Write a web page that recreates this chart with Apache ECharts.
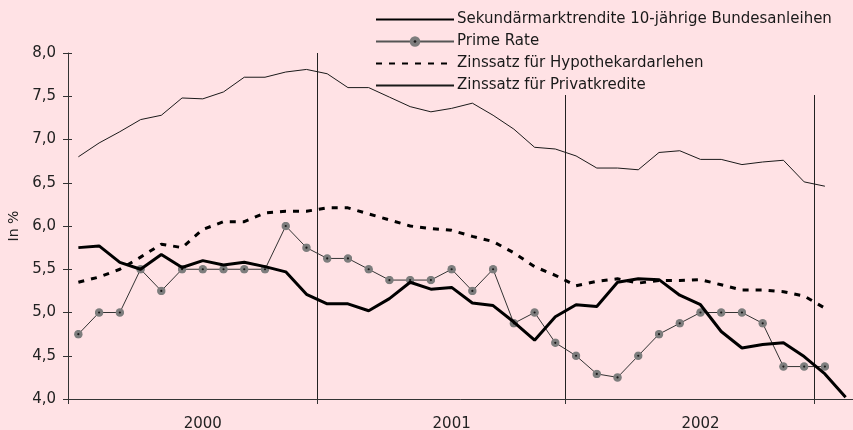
<!DOCTYPE html>
<html>
<head>
<meta charset="utf-8">
<script src="https://cdn.jsdelivr.net/npm/echarts@6/dist/echarts.min.js"></script>
<style>
html,body{margin:0;padding:0;background:#FFE2E5;}
#c{width:853px;height:430px;}
</style>
</head>
<body>
<div id="c"></div>
<script>
// Monthly categories Jan 2000 .. Feb 2003
var months = [];
for (var y = 2000; y <= 2003; y++) {
  for (var m = 1; m <= 12; m++) {
    if (months.length < 38) months.push(m + '/' + y);
  }
}
var yearLabels = {6: '2000', 18: '2001', 30: '2002'};

var bund = [5.75,5.77,5.58,5.50,5.67,5.52,5.60,5.55,5.58,5.53,5.47,5.21,5.10,5.10,5.02,5.16,5.35,
            5.27,5.29,5.11,5.08,4.89,4.68,4.95,5.09,5.07,5.35,5.39,5.38,5.20,5.09,4.78,4.59,4.63,4.65,4.49,4.29,4.02];
var prime = [4.75,5.0,5.0,5.5,5.25,5.5,5.5,5.5,5.5,5.5,6.0,5.75,5.625,5.625,5.5,5.375,5.375,
             5.375,5.5,5.25,5.5,4.875,5.0,4.65,4.5,4.29,4.25,4.5,4.75,4.875,5.0,5.0,5.0,4.875,4.375,4.375,4.375];
var hypo = [5.35,5.41,5.50,5.64,5.79,5.75,5.96,6.05,6.05,6.15,6.17,6.17,6.21,6.21,6.14,6.07,6.00,
            5.97,5.95,5.88,5.82,5.69,5.53,5.43,5.31,5.36,5.39,5.34,5.37,5.37,5.38,5.32,5.26,5.26,5.24,5.19,5.05];
var privat = [6.80,6.96,7.09,7.23,7.28,7.48,7.47,7.55,7.72,7.72,7.78,7.81,7.76,7.60,7.60,7.49,7.38,
              7.32,7.36,7.42,7.28,7.12,6.91,6.89,6.81,6.67,6.67,6.65,6.85,6.87,6.77,6.77,6.71,6.74,6.76,6.51,6.46];

var names = ['Sekundärmarktrendite 10-jährige Bundesanleihen','Prime Rate','Zinssatz für Hypothekardarlehen','Zinssatz für Privatkredite'];

var bg = '#FFE2E5';
var font = 'DejaVu Sans';
var markerSvg = '<svg xmlns="http://www.w3.org/2000/svg" width="18" height="18"><circle cx="9" cy="9" r="8.5" fill="#7d7d7d"/><circle cx="9" cy="9" r="2.2" fill="#1a1a1a"/></svg>';
var marker = 'image://data:image/svg+xml;utf8,' + encodeURIComponent(markerSvg);

var chart = echarts.init(document.getElementById('c'));
chart.setOption({
  backgroundColor: bg,
  animation: false,
  textStyle: {fontFamily: font},
  grid: {left: 68, top: 53, right: -3, bottom: 31, containLabel: false, outerBoundsMode: 'none'},
  legend: {
    orient: 'vertical', left: 370, top: 0,
    padding: [12, 15, 2, 5],
    backgroundColor: bg,
    itemWidth: 78, itemHeight: 14, itemGap: 7,
    textStyle: {fontFamily: font, fontSize: 15, color: '#1a1a1a', padding: [0, 0, 0, -2]},
    data: [
      {name: names[0], itemStyle: {opacity: 0}},
      {name: names[1], lineStyle: {color: '#555'}},
      {name: names[2], itemStyle: {opacity: 0}},
      {name: names[3], itemStyle: {opacity: 0}}
    ]
  },
  xAxis: {
    type: 'category', data: months, boundaryGap: true,
    axisLine: {lineStyle: {color: '#333', width: 1}},
    axisTick: {show: true, length: 5, interval: function (i) { return i % 12 === 0; }, lineStyle: {color: '#333'}},
    splitLine: {show: true, interval: function (i) { return i % 12 === 0 && i > 0; }, lineStyle: {color: '#222', width: 1}},
    axisLabel: {interval: 0, margin: 18, fontSize: 15, color: '#222', fontFamily: font,
      formatter: function (v, i) { return yearLabels[i] || ''; }}
  },
  yAxis: [{
    type: 'value', min: 4, max: 8, interval: 0.5,
    name: 'In %', nameLocation: 'middle', nameGap: 46, nameRotate: 90,
    nameTextStyle: {fontSize: 14, color: '#222', fontFamily: font},
    axisLine: {show: true, lineStyle: {color: '#333'}},
    axisTick: {show: true, length: 5, lineStyle: {color: '#333'}},
    splitLine: {show: false},
    axisLabel: {fontSize: 15, color: '#222', margin: 12, fontFamily: font,
      formatter: function (v) { return v.toFixed(1).replace('.', ','); }}
  }, {
    type: 'value', min: 4, max: 8, interval: 0.5, position: 'left', offset: 0,
    axisLine: {show: false},
    axisTick: {show: true, inside: true, length: 4, lineStyle: {color: '#333'}},
    splitLine: {show: false}, axisLabel: {show: false}
  }],
  series: [
    {name: names[0], type: 'line', data: bund, symbol: 'none', z: 8,
     lineStyle: {color: '#000', width: 3}, itemStyle: {color: '#000'}},
    {name: names[1], type: 'line', data: prime, symbol: marker, symbolSize: 9, z: 7,
     lineStyle: {color: '#333', width: 1}, itemStyle: {color: '#666'}},
    {name: names[2], type: 'line', data: hypo, symbol: 'none', z: 6,
     lineStyle: {color: '#000', width: 3, type: [6, 7]}, itemStyle: {color: '#000'}},
    {name: names[3], type: 'line', data: privat, symbol: 'none', z: 6,
     lineStyle: {color: '#1a1a1a', width: 1}, itemStyle: {color: '#1a1a1a'}}
  ]
});
</script>
</body>
</html>
